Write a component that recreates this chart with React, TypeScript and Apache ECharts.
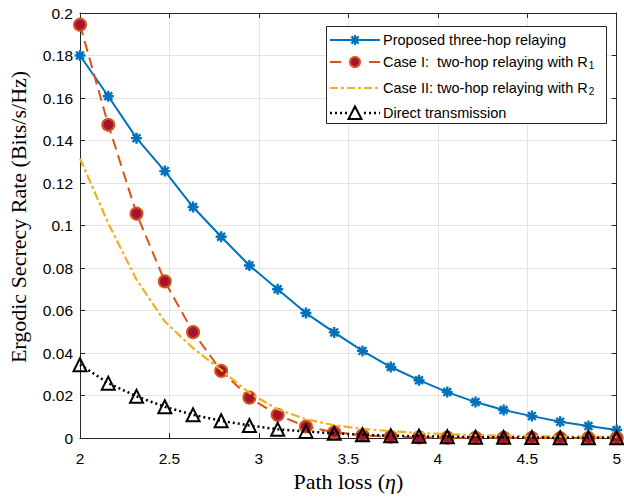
import React, { useEffect, useRef } from "react";
import * as echarts from "echarts";

const xValues = [2, 2.158, 2.316, 2.474, 2.632, 2.789, 2.947, 3.105, 3.263, 3.421, 3.579, 3.737, 3.895, 4.053, 4.211, 4.368, 4.526, 4.684, 4.842, 5];
const proposed = [0.18, 0.1608, 0.1411, 0.1256, 0.1087, 0.0947, 0.0812, 0.07, 0.0588, 0.0497, 0.041, 0.0334, 0.0272, 0.0216, 0.0169, 0.0132, 0.0103, 0.0076, 0.0056, 0.0038];
const caseI = [0.1945, 0.1474, 0.1056, 0.0737, 0.0498, 0.0316, 0.019, 0.0109, 0.0054, 0.0027, 0.0013, 0.0006, 0.0003, 0.00015, 0.0001, 0.00005, 0.00003, 0.00002, 0.00001, 0.0];
const caseII = [0.1315, 0.101, 0.0745, 0.0548, 0.0423, 0.032, 0.0212, 0.0135, 0.0088, 0.006, 0.0043, 0.0032, 0.0024, 0.0018, 0.0014, 0.0011, 0.0009, 0.0007, 0.0006, 0.0005];
const direct = [0.0345, 0.0258, 0.0196, 0.0147, 0.0109, 0.0081, 0.0059, 0.0041, 0.0031, 0.0022, 0.0015, 0.0011, 0.0008, 0.0006, 0.0004, 0.0003, 0.0002, 0.00015, 0.0001, 0.0001];

const seriesNames = [
  "Proposed three-hop relaying",
  "Case I:  two-hop relaying with R1",
  "Case II: two-hop relaying with R2",
  "Direct transmission",
];
const legendMain = [
  "Proposed three-hop relaying",
  "Case I:  two-hop relaying with R",
  "Case II: two-hop relaying with R",
  "Direct transmission",
];
const legendSub = ["", "1", "2", ""];

const xName = "Path loss ({i|η})";
const yName = "Ergodic Secrecy Rate (Bits/s/Hz)";

const SANS = "'Liberation Sans', Arial, Helvetica, sans-serif";
const SERIF = "'Liberation Serif', 'Times New Roman', serif";
const AXIS = "#262626";
const BLUE = "#0072BD";
const ORANGE = "#D95319";
const DARKRED = "#A2142F";
const YELLOW = "#EDB120";

const asterisk =
  "path://M-1.2,-5.5L1.2,-5.5L1.2,5.5L-1.2,5.5Z M-5.5,-1.2L5.5,-1.2L5.5,1.2L-5.5,1.2Z M-4.74,-3.04L-3.04,-4.74L4.74,3.04L3.04,4.74Z M3.04,-4.74L4.74,-3.04L-3.04,4.74L-4.74,3.04Z";

const pairs = (ys: number[]) => xValues.map((x, i) => [x, ys[i]]);

function buildLegend() {
  const x0 = 330;
  const x1 = 380;
  const cx = 355;
  const tx = 383;
  const rows = [40, 62, 88, 113];
  const z = 100;
  const els: any[] = [];
  els.push({
    type: "rect",
    z,
    shape: { x: 326.5, y: 26.5, width: 280, height: 97 },
    style: { fill: "#fff", stroke: AXIS, lineWidth: 1 },
  });
  const y0 = rows[0];
  els.push({ type: "line", z: z + 1, shape: { x1: x0, y1: y0, x2: x1, y2: y0 }, style: { stroke: BLUE, lineWidth: 2 } });
  const arms = [
    [5, 0],
    [0, 5],
    [3.6, 3.6],
    [3.6, -3.6],
  ];
  arms.forEach(([dx, dy]) =>
    els.push({
      type: "line",
      z: z + 2,
      shape: { x1: cx - dx, y1: y0 - dy, x2: cx + dx, y2: y0 + dy },
      style: { stroke: BLUE, lineWidth: 2.2 },
    })
  );
  const y1 = rows[1];
  els.push({ type: "line", z: z + 1, shape: { x1: x0, y1: y1, x2: 341, y2: y1 }, style: { stroke: ORANGE, lineWidth: 2 } });
  els.push({ type: "line", z: z + 1, shape: { x1: 369, y1: y1, x2: x1, y2: y1 }, style: { stroke: ORANGE, lineWidth: 2 } });
  els.push({ type: "circle", z: z + 2, shape: { cx, cy: y1, r: 5 }, style: { fill: DARKRED, stroke: ORANGE, lineWidth: 2 } });
  const y2 = rows[2];
  els.push({
    type: "line",
    z: z + 1,
    shape: { x1: x0, y1: y2, x2: x1, y2: y2 },
    style: { stroke: YELLOW, lineWidth: 2, lineDash: [8, 3, 3, 3] },
  });
  const y3 = rows[3];
  els.push({ type: "line", z: z + 1, shape: { x1: x0, y1: y3, x2: 347, y2: y3 }, style: { stroke: "#000", lineWidth: 2.5, lineDash: [2, 3] } });
  els.push({ type: "line", z: z + 1, shape: { x1: 364, y1: y3, x2: x1, y2: y3 }, style: { stroke: "#000", lineWidth: 2.5, lineDash: [2, 3] } });
  els.push({
    type: "polygon",
    z: z + 2,
    shape: { points: [[cx, y3 - 6.5], [cx + 6.5, y3 + 6], [cx - 6.5, y3 + 6]] },
    style: { fill: "none", stroke: "#000", lineWidth: 2 },
  });
  rows.forEach((ry, i) => {
    if (legendSub[i]) {
      els.push({
        type: "text",
        z: z + 2,
        x: tx,
        y: ry - 8,
        style: {
          text: `{b|${legendMain[i]}}{s|${legendSub[i]}}`,
          align: "left",
          verticalAlign: "top",
          textAlign: "left",
          textVerticalAlign: "top",
          fill: "#000",
          rich: {
            b: { fontFamily: SANS, fontSize: 14.5, lineHeight: 16, verticalAlign: "top", fill: "#000", color: "#000" },
            s: {
              fontFamily: SANS,
              fontSize: 10,
              lineHeight: 10,
              verticalAlign: "bottom",
              padding: [12, 0, 0, 1],
              fill: "#000",
              color: "#000",
            },
          },
        },
      });
    } else {
      els.push({
        type: "text",
        z: z + 2,
        x: tx,
        y: ry,
        style: {
          text: legendMain[i],
          fontFamily: SANS,
          fontSize: 14.5,
          fill: "#000",
          align: "left",
          verticalAlign: "middle",
          textAlign: "left",
          textVerticalAlign: "middle",
        },
      });
    }
  });
  return els;
}

export default function App() {
  const ref = useRef<HTMLDivElement>(null);
  useEffect(() => {
    if (!ref.current) return;
    const chart = echarts.init(ref.current, null, { renderer: "svg" });
    const fmtY = (v: number) => String(+v.toFixed(2));
    chart.setOption({
      animation: false,
      backgroundColor: "#fff",
      grid: { left: 80, right: 5, top: 13, bottom: 61, containLabel: false },
      graphic: [
        ...buildLegend(),
        {
          type: "text",
          x: 18,
          y: 217,
          rotation: Math.PI / 2,
          style: {
            text: yName,
            fontFamily: SERIF,
            fontSize: 22,
            fill: "#000",
            align: "center",
            verticalAlign: "middle",
            textAlign: "center",
            textVerticalAlign: "middle",
          },
        },
      ],
      xAxis: [
        {
          type: "value",
          min: 2,
          max: 5,
          interval: 0.5,
          name: xName,
          nameLocation: "middle",
          nameGap: 31,
          nameTextStyle: {
            fontFamily: SERIF,
            fontSize: 22,
            color: "#000",
            rich: { i: { fontFamily: SERIF, fontSize: 22, fontStyle: "italic", color: "#000" } },
          },
          axisLine: { show: true, onZero: false, lineStyle: { color: AXIS, width: 1 } },
          axisTick: { show: true, inside: true, length: 5, lineStyle: { color: AXIS } },
          axisLabel: { fontFamily: SANS, fontSize: 15.5, color: "#000", margin: 12 },
          splitLine: { show: true, lineStyle: { color: "#e3e3e3", width: 1 } },
        },
        {
          type: "value",
          position: "top",
          min: 2,
          max: 5,
          interval: 0.5,
          axisLine: { show: true, onZero: false, lineStyle: { color: AXIS, width: 1 } },
          axisTick: { show: true, inside: true, length: 5, lineStyle: { color: AXIS } },
          axisLabel: { show: false },
          splitLine: { show: false },
        },
      ],
      yAxis: [
        {
          type: "value",
          min: 0,
          max: 0.2,
          interval: 0.02,
          axisLine: { show: true, onZero: false, lineStyle: { color: AXIS, width: 1 } },
          axisTick: { show: true, inside: true, length: 5, lineStyle: { color: AXIS } },
          axisLabel: { fontFamily: SANS, fontSize: 15.5, color: "#000", margin: 7, formatter: fmtY },
          splitLine: { show: true, lineStyle: { color: "#e3e3e3", width: 1 } },
        },
        {
          type: "value",
          position: "right",
          min: 0,
          max: 0.2,
          interval: 0.02,
          axisLine: { show: true, onZero: false, lineStyle: { color: AXIS, width: 1 } },
          axisTick: { show: true, inside: true, length: 5, lineStyle: { color: AXIS } },
          axisLabel: { show: false },
          splitLine: { show: false },
        },
      ],
      series: [
        {
          name: seriesNames[0],
          type: "line",
          data: pairs(proposed),
          symbol: asterisk,
          symbolSize: 11,
          showAllSymbol: true,
          itemStyle: { color: BLUE },
          lineStyle: { color: BLUE, width: 2 },
          clip: false,
          z: 2,
        },
        {
          name: seriesNames[1],
          type: "line",
          data: pairs(caseI),
          symbol: "circle",
          symbolSize: 12,
          showAllSymbol: true,
          itemStyle: { color: DARKRED, borderColor: ORANGE, borderWidth: 2 },
          lineStyle: { color: ORANGE, width: 2, type: [11, 6] },
          clip: false,
          z: 3,
        },
        {
          name: seriesNames[2],
          type: "line",
          data: pairs(caseII),
          symbol: "none",
          showSymbol: false,
          itemStyle: { color: YELLOW },
          lineStyle: { color: YELLOW, width: 2.2, type: [9, 3, 3, 3] },
          clip: false,
          z: 4,
        },
        {
          name: seriesNames[3],
          type: "line",
          data: pairs(direct),
          symbol: "triangle",
          symbolSize: 13,
          showAllSymbol: true,
          itemStyle: { color: "rgba(0,0,0,0)", borderColor: "#000", borderWidth: 2 },
          lineStyle: { color: "#000", width: 2.5, type: [2, 3] },
          clip: false,
          z: 5,
        },
      ],
    });
    return () => chart.dispose();
  }, []);
  return (
    <div
      ref={ref}
      style={{ position: "fixed", left: 0, top: 0, width: 624, height: 499, background: "#fff" }}
    />
  );
}
